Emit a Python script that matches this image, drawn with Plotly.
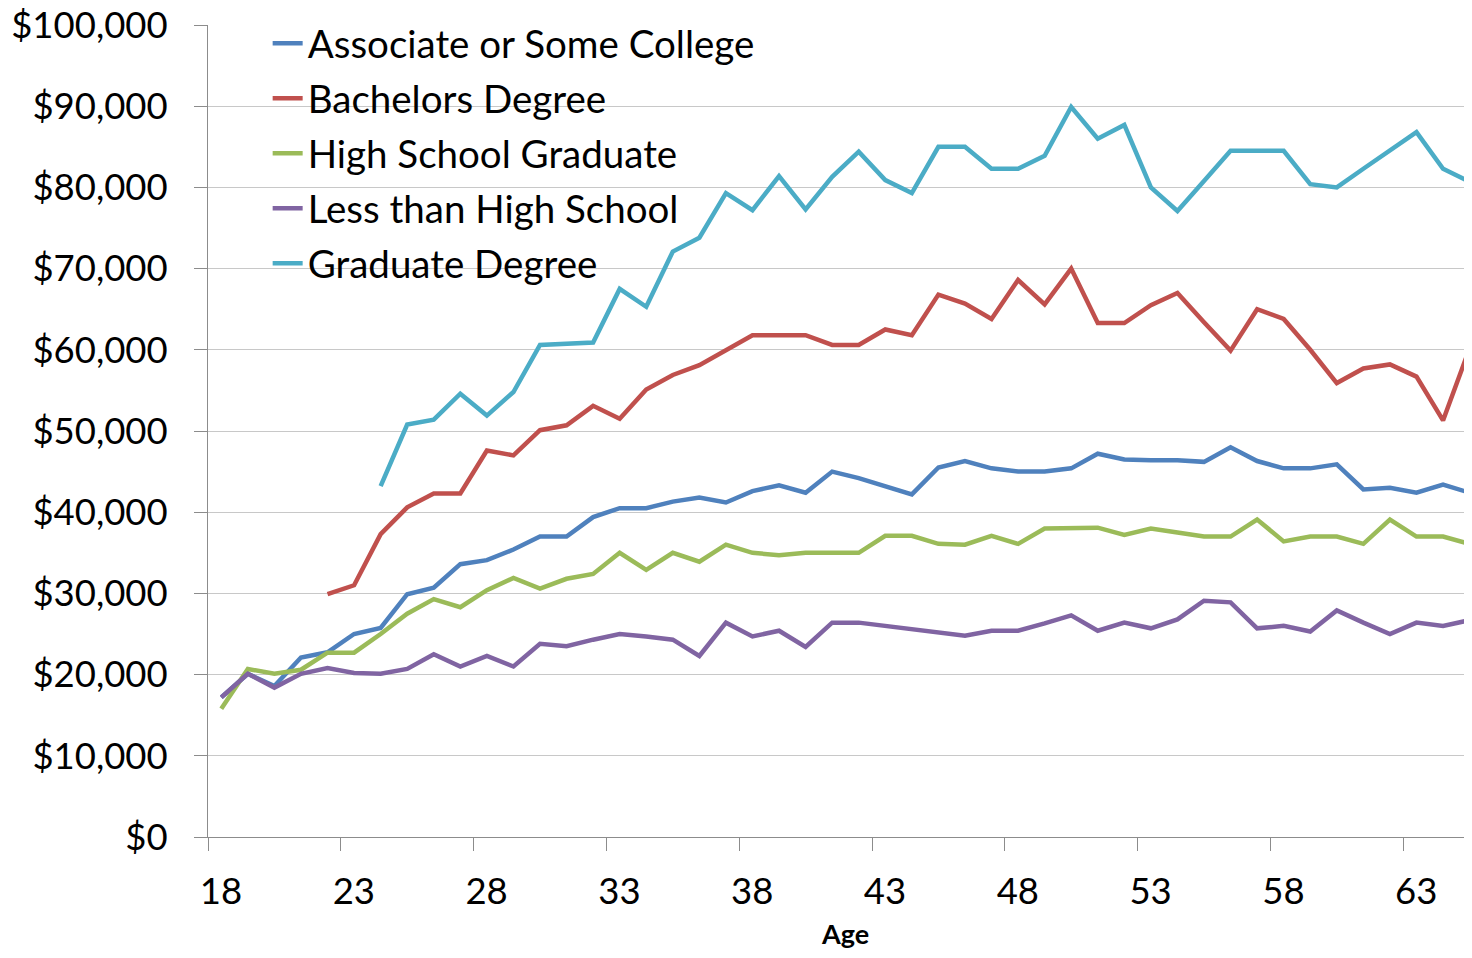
"""
Median earnings by age and education level, drawn as an Excel-style line chart.
"""

import plotly.graph_objects as go

# Ages 18 to 65, one category per year
ages = list(range(18, 66))

# Earnings in dollars (None where the series has no value)
associate = [
    17200, 20100, 18600, 22100, 22750, 25000, 25750, 29900, 30700, 33600,
    34100, 35400, 37000, 37000, 39400, 40500, 40500, 41300, 41800, 41200,
    42600, 43300, 42400, 45000, 44200, 43200, 42200, 45500, 46300, 45400,
    45000, 45000, 45400, 47200, 46500, 46400, 46400, 46200, 48000, 46300,
    45400, 45400, 45900, 42800, 43000, 42400, 43400, 42400,
]
bachelors = [
    None, None, None, None, 29900, 31000, 37300, 40600, 42300, 42300,
    47600, 47000, 50100, 50700, 53100, 51500, 55100, 56900, 58100, 60000,
    61800, 61800, 61800, 60600, 60600, 62500, 61800, 66800, 65700, 63800,
    68600, 65600, 70000, 63300, 63300, 65500, 67000, 63400, 59900, 65000,
    63800, 60000, 55900, 57700, 58200, 56700, 51300, 60200,
]
high_school = [
    15800, 20700, 20100, 20600, 22700, 22700, 25000, 27500, 29300, 28300,
    30400, 31900, 30600, 31800, 32400, 35000, 32900, 35000, 33900, 36000,
    35000, 34700, 35000, 35000, 35000, 37100, 37100, 36100, 36000, 37100,
    36100, 38000, 38100, 38100, 37200, 38000, 37500, 37000, 37000, 39100,
    36400, 37000, 37000, 36100, 39100, 37000, 37000, 36100,
]
less_than_hs = [
    17200, 20100, 18400, 20100, 20800, 20200, 20100, 20700, 22500, 21000,
    22300, 21000, 23800, 23500, 24300, 25000, 24700, 24300, 22300, 26400,
    24700, 25400, 23400, 26400, 26400, 26000, 25600, 25200, 24800, 25400,
    25400, 26300, 27300, 25400, 26400, 25700, 26800, 29100, 28900, 25700,
    26000, 25300, 27900, 26400, 25000, 26400, 26000, 26700,
]
graduate = [
    None, None, None, None, None, None, 43200, 50800, 51400, 54600,
    51900, 54800, 60600, 60700, 60900, 67500, 65300, 72100, 73800, 79300,
    77200, 81400, 77300, 81300, 84400, 80900, 79300, 85000, 85000, 82300,
    82300, 83900, 89900, 86000, 87700, 80000, 77100, 80800, 84500, 84500,
    84500, 80400, 80000, 82300, 84500, 86800, 82300, 80700,
]

series_names = [
    "Associate or Some College",
    "Bachelors Degree",
    "High School Graduate",
    "Less than High School",
    "Graduate Degree",
]
series_values = [associate, bachelors, high_school, less_than_hs, graduate]
series_colors = ["#4F81BD", "#C0504D", "#9BBB59", "#8064A2", "#4BACC6"]

# Tick labels every fifth age
label_ages = list(range(18, 64, 5))
x_title = "Age"

FONT = "Lato, 'Open Sans', sans-serif"
AXIS_GREY = "#8C8C8C"
GRID_GREY = "#C8C8C8"

# Pixels per age category in the original chart
CATEGORY_PX = 26.56


def build_figure() -> go.Figure:
    """Build the line chart."""
    fig = go.Figure()

    for name, values, color in zip(series_names, series_values, series_colors):
        fig.add_trace(
            go.Scatter(
                x=ages,
                y=values,
                name=name,
                mode="lines",
                line=dict(color=color, width=4.5),
                legendgroup=name,
                connectgaps=False,
            )
        )

    # Ticks sit between categories; labels are shifted half a category right
    tick_positions = [a - 0.5 for a in label_ages]
    fig.update_xaxes(
        range=[17.5, 17.5 + 1256 / CATEGORY_PX],
        automargin=False,
        tickvals=tick_positions,
        ticktext=[str(a) for a in label_ages],
        ticklabelshift=13,
        ticklabelstandoff=9,
        ticks="outside",
        ticklen=13,
        tickcolor=AXIS_GREY,
        showline=True,
        linecolor=AXIS_GREY,
        linewidth=1,
        showgrid=False,
        zeroline=False,
        tickfont=dict(family=FONT, size=36.5, color="#000000"),
    )
    fig.update_yaxes(
        range=[0, 100000],
        automargin=False,
        dtick=10000,
        tickformat="$,.0f",
        ticks="outside",
        ticklen=13,
        tickcolor=AXIS_GREY,
        ticklabelstandoff=19,
        ticklabeloverflow="allow",
        showline=True,
        linecolor=AXIS_GREY,
        linewidth=1,
        showgrid=True,
        gridcolor=GRID_GREY,
        gridwidth=1,
        zeroline=False,
        tickfont=dict(family=FONT, size=36.5, color="#000000"),
    )

    # Axis title sits under the centre of the full (uncropped) plot area,
    # kept just inside the bottom edge of the figure
    fig.add_annotation(
        text=f"<b>{x_title}</b>",
        xref="paper",
        yref="paper",
        x=0.507,
        y=0,
        xanchor="center",
        yanchor="middle",
        yshift=-96,
        showarrow=False,
        font=dict(family=FONT, size=27, color="#000000"),
    )

    # The page adds an 8px body margin, so size and margins are trimmed to
    # keep the whole figure inside the window without scrollbars
    fig.update_layout(
        width=1456,
        height=942,
        margin=dict(l=200, r=0, t=17, b=113),
        paper_bgcolor="white",
        plot_bgcolor="white",
        showlegend=True,
        legend=dict(
            x=0.0475,
            y=1.0165,
            xanchor="left",
            yanchor="top",
            traceorder="grouped",
            tracegroupgap=2,
            bgcolor="rgba(0,0,0,0)",
            font=dict(family=FONT, size=38.5, color="#000000"),
        ),
    )
    return fig


fig = build_figure()
fig.write_html("out.html")
